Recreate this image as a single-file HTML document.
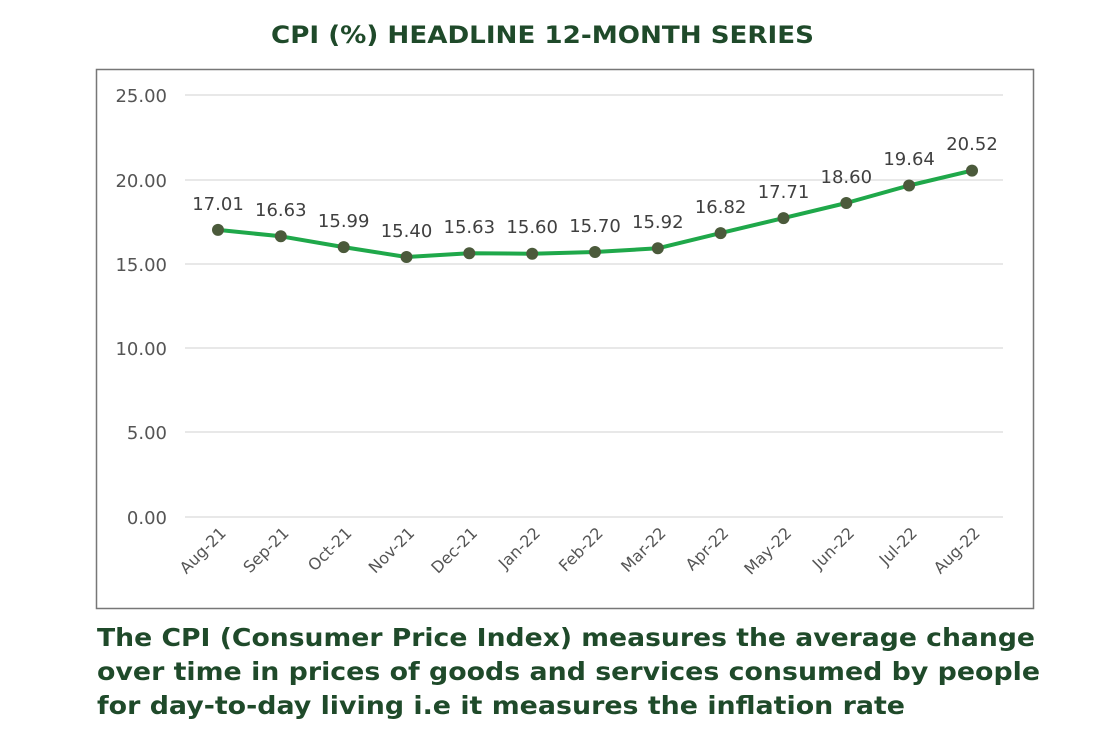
<!DOCTYPE html>
<html><head><meta charset="utf-8"><style>
html,body{margin:0;padding:0;background:#fff;}
</style></head><body>
<svg width="1120" height="751" xmlns="http://www.w3.org/2000/svg" font-family="DejaVu Sans, Liberation Sans, sans-serif">
<rect width="1120" height="751" fill="#fff"/>
<text x="271" y="43" font-size="24" font-weight="bold" fill="#1f4a2a" textLength="543" lengthAdjust="spacingAndGlyphs">CPI (%)  HEADLINE 12-MONTH SERIES</text>
<rect x="96.5" y="69.5" width="937" height="539" fill="#fff" stroke="#777" stroke-width="1.5"/>
<g stroke="#d9d9d9" stroke-width="1.3">
<line x1="185" x2="1003" y1="95" y2="95"/>
<line x1="185" x2="1003" y1="180" y2="180"/>
<line x1="185" x2="1003" y1="264" y2="264"/>
<line x1="185" x2="1003" y1="348" y2="348"/>
<line x1="185" x2="1003" y1="432" y2="432"/>
<line x1="185" x2="1003" y1="517" y2="517"/>
</g>
<g font-size="18" fill="#555" text-anchor="end">
<text x="167" y="102">25.00</text>
<text x="167" y="187">20.00</text>
<text x="167" y="271">15.00</text>
<text x="167" y="355">10.00</text>
<text x="167" y="439">5.00</text>
<text x="167" y="524">0.00</text>
</g>
<polyline points="218,229.9 280.8,236.3 343.7,247.1 406.5,257 469.3,253.2 532.2,253.7 595,252 657.8,248.3 720.6,233.1 783.5,218.1 846.3,203 909.1,185.5 972,170.6" fill="none" stroke="#1fa84a" stroke-width="4" stroke-linejoin="round"/>
<g fill="#4b5a3b">
<circle cx="218" cy="229.9" r="6"/><circle cx="280.8" cy="236.3" r="6"/><circle cx="343.7" cy="247.1" r="6"/><circle cx="406.5" cy="257" r="6"/><circle cx="469.3" cy="253.2" r="6"/><circle cx="532.2" cy="253.7" r="6"/><circle cx="595" cy="252" r="6"/><circle cx="657.8" cy="248.3" r="6"/><circle cx="720.6" cy="233.1" r="6"/><circle cx="783.5" cy="218.1" r="6"/><circle cx="846.3" cy="203" r="6"/><circle cx="909.1" cy="185.5" r="6"/><circle cx="972" cy="170.6" r="6"/>
</g>
<g font-size="18" fill="#404040" text-anchor="middle">
<text x="218" y="210">17.01</text><text x="280.8" y="216">16.63</text><text x="343.7" y="227">15.99</text><text x="406.5" y="237">15.40</text><text x="469.3" y="233">15.63</text><text x="532.2" y="233">15.60</text><text x="595" y="232">15.70</text><text x="657.8" y="228">15.92</text><text x="720.6" y="213">16.82</text><text x="783.5" y="198">17.71</text><text x="846.3" y="183">18.60</text><text x="909.1" y="165">19.64</text><text x="972" y="150">20.52</text>
</g>
<g font-size="16" fill="#555" text-anchor="end">
<text transform="translate(227,534) rotate(-45)">Aug-21</text>
<text transform="translate(289.8,534) rotate(-45)">Sep-21</text>
<text transform="translate(352.7,534) rotate(-45)">Oct-21</text>
<text transform="translate(415.5,534) rotate(-45)">Nov-21</text>
<text transform="translate(478.3,534) rotate(-45)">Dec-21</text>
<text transform="translate(541.2,534) rotate(-45)">Jan-22</text>
<text transform="translate(604,534) rotate(-45)">Feb-22</text>
<text transform="translate(666.8,534) rotate(-45)">Mar-22</text>
<text transform="translate(729.6,534) rotate(-45)">Apr-22</text>
<text transform="translate(792.5,534) rotate(-45)">May-22</text>
<text transform="translate(855.3,534) rotate(-45)">Jun-22</text>
<text transform="translate(918.1,534) rotate(-45)">Jul-22</text>
<text transform="translate(981,534) rotate(-45)">Aug-22</text>
</g>
<g font-size="25" font-weight="bold" fill="#1f4a2a">
<text x="97" y="646" textLength="938" lengthAdjust="spacingAndGlyphs">The CPI (Consumer Price Index) measures the average change</text>
<text x="97" y="680" textLength="943" lengthAdjust="spacingAndGlyphs">over time in prices of goods and services consumed by people</text>
<text x="97" y="714" textLength="808" lengthAdjust="spacingAndGlyphs">for day-to-day living i.e it measures the inflation rate</text>
</g>
</svg>
</body></html>
